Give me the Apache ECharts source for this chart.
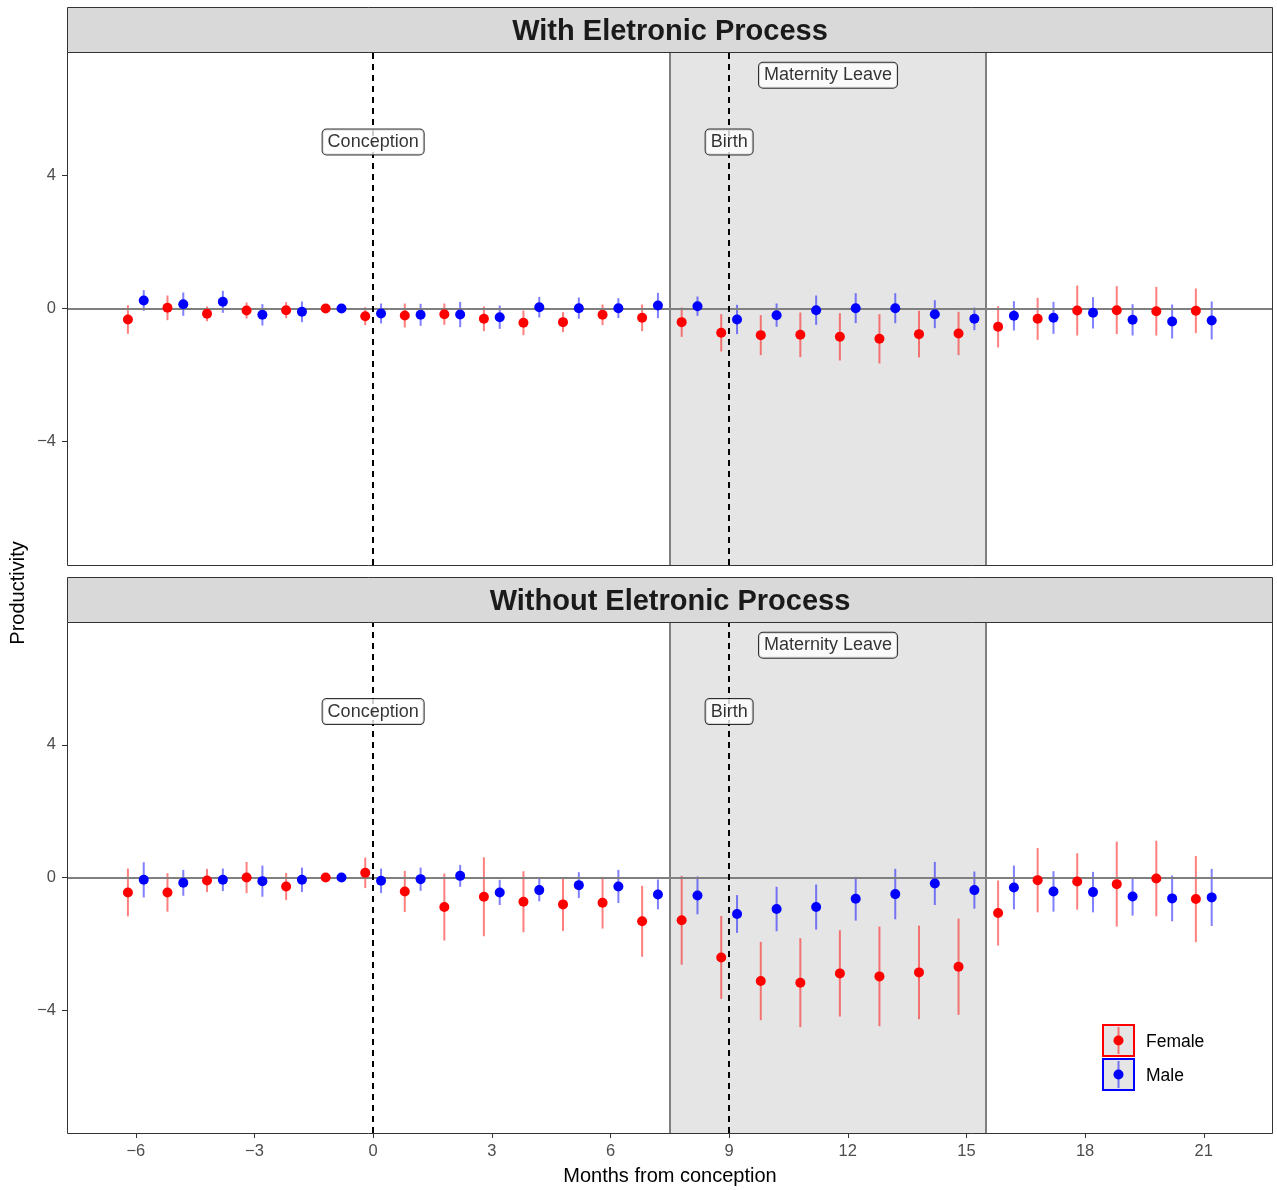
<!DOCTYPE html>
<html>
<head>
<meta charset="utf-8">
<script src="https://cdn.jsdelivr.net/npm/echarts@6/dist/echarts.min.js"></script>
<style>
  html, body { margin: 0; padding: 0; background: #fff; }
  #chart { width: 1277px; height: 1190px; }
</style>
</head>
<body>
<div id="chart"></div>
<script>
// Months relative to conception
const months = [-6,-5,-4,-3,-2,-1,0,1,2,3,4,5,6,7,8,9,10,11,12,13,14,15,16,17,18,19,20,21];

// Panel 1: with electronic process (estimate and 95% half-width)
const withFemale   = [-0.33,0.02,-0.16,-0.06,-0.05,0,-0.23,-0.21,-0.17,-0.31,-0.43,-0.41,-0.19,-0.28,-0.41,-0.73,-0.80,-0.79,-0.85,-0.91,-0.77,-0.75,-0.55,-0.31,-0.06,-0.05,-0.08,-0.07];
const withFemaleCI = [0.43,0.37,0.22,0.24,0.24,0,0.27,0.36,0.32,0.37,0.37,0.30,0.31,0.40,0.44,0.56,0.60,0.67,0.71,0.74,0.70,0.65,0.62,0.63,0.75,0.72,0.73,0.67];
const withMale     = [0.24,0.13,0.20,-0.19,-0.10,0,-0.15,-0.19,-0.18,-0.26,0.04,0.01,0.01,0.09,0.07,-0.33,-0.20,-0.05,0.01,0.01,-0.17,-0.31,-0.22,-0.28,-0.13,-0.34,-0.39,-0.36];
const withMaleCI   = [0.31,0.35,0.33,0.32,0.31,0,0.30,0.33,0.38,0.35,0.31,0.32,0.30,0.38,0.29,0.44,0.35,0.44,0.45,0.45,0.42,0.34,0.44,0.48,0.47,0.47,0.51,0.57];

// Panel 2: without electronic process
const withoutFemale   = [-0.45,-0.45,-0.09,0.00,-0.27,0,0.14,-0.42,-0.89,-0.58,-0.73,-0.81,-0.76,-1.32,-1.29,-2.41,-3.12,-3.17,-2.89,-2.98,-2.86,-2.69,-1.07,-0.08,-0.12,-0.20,-0.03,-0.65];
const withoutFemaleCI = [0.72,0.58,0.35,0.47,0.41,0,0.46,0.62,1.01,1.19,0.92,0.80,0.78,1.07,1.34,1.25,1.18,1.34,1.30,1.50,1.41,1.45,0.98,0.97,0.85,1.28,1.14,1.30];
const withoutMale     = [-0.07,-0.16,-0.07,-0.11,-0.07,0,-0.10,-0.05,0.05,-0.45,-0.38,-0.23,-0.27,-0.51,-0.54,-1.10,-0.95,-0.89,-0.64,-0.50,-0.18,-0.38,-0.30,-0.42,-0.44,-0.57,-0.63,-0.60];
const withoutMaleCI   = [0.53,0.39,0.34,0.47,0.37,0,0.37,0.35,0.33,0.38,0.34,0.39,0.50,0.45,0.57,0.57,0.67,0.68,0.66,0.76,0.65,0.56,0.66,0.61,0.61,0.58,0.69,0.86];

const panelTitles = ['With Eletronic Process', 'Without Eletronic Process'];
const xTicks = [-6,-3,0,3,6,9,12,15,18,21];
const yTicks = [-4,0,4];
const eventLines = [0, 9];          // conception, birth
const leaveSpan = [7.5, 15.5];      // maternity leave window
const annotations = [
  { name: 'Conception', x: 0, y: 5 },
  { name: 'Birth', x: 9, y: 5 },
  { name: 'Maternity Leave', x: 11.5, y: 7 }
];
const sexes = ['Female', 'Male'];

const FONT = 'Liberation Sans, Arial, Helvetica, sans-serif';
const RED = '#FF0000', BLUE = '#0000FF';
const DODGE = 0.2;

const chart = echarts.init(document.getElementById('chart'), null, { renderer: 'canvas' });

const grids = [
  { left: 67, top: 52, width: 1206, height: 513 },
  { left: 67, top: 622, width: 1206, height: 511 }
];
const XMIN = -7.74, XMAX = 22.75, YMIN = -7.7, YMAX = 7.7;

function errorBarSeries(gi, est, ci, offset, color) {
  return {
    type: 'custom',
    xAxisIndex: gi, yAxisIndex: gi,
    z: 4,
    silent: true,
    data: months.map((m, i) => [m + offset, est[i] - ci[i], est[i] + ci[i]]),
    encode: { x: 0, y: [1, 2] },
    renderItem(params, api) {
      const a = api.coord([api.value(0), api.value(1)]);
      const b = api.coord([api.value(0), api.value(2)]);
      return { type: 'line', shape: { x1: a[0], y1: a[1], x2: b[0], y2: b[1] },
               style: { stroke: color, lineWidth: 2, opacity: 0.5 } };
    }
  };
}

function pointSeries(gi, name, est, offset, color) {
  return {
    name, type: 'scatter', xAxisIndex: gi, yAxisIndex: gi, z: 5,
    symbol: 'circle', symbolSize: 10,
    itemStyle: { color, opacity: 1 },
    data: months.map((m, i) => [m + offset, est[i]])
  };
}

const series = [];
const panels = [
  [withFemale, withFemaleCI, withMale, withMaleCI],
  [withoutFemale, withoutFemaleCI, withoutMale, withoutMaleCI]
];
panels.forEach((p, gi) => {
  // background annotations: leave window, zero line, event lines
  series.push({
    type: 'line', xAxisIndex: gi, yAxisIndex: gi, data: [], z: 1, silent: true,
    markArea: {
      silent: true,
      itemStyle: { color: '#e5e5e5', borderWidth: 0 },
      data: [[{ xAxis: leaveSpan[0] }, { xAxis: leaveSpan[1] }]]
    },
    markLine: {
      silent: true, symbol: 'none', label: { show: false },
      data: [
        { xAxis: leaveSpan[0], lineStyle: { color: '#7f7f7f', width: 2, type: 'solid' } },
        { xAxis: leaveSpan[1], lineStyle: { color: '#7f7f7f', width: 2, type: 'solid' } },
        { yAxis: 0, lineStyle: { color: '#7f7f7f', width: 2, type: 'solid' } }
      ]
    }
  });
  series.push({
    type: 'line', xAxisIndex: gi, yAxisIndex: gi, data: [], z: 3, silent: true,
    markLine: {
      silent: true, symbol: 'none', label: { show: false },
      lineStyle: { color: '#000', width: 2, type: [6, 5] },
      data: eventLines.map(v => ({ xAxis: v }))
    }
  });
  series.push(errorBarSeries(gi, p[0], p[1], -DODGE, RED));
  series.push(errorBarSeries(gi, p[2], p[3], DODGE, BLUE));
  series.push(pointSeries(gi, sexes[0], p[0], -DODGE, RED));
  series.push(pointSeries(gi, sexes[1], p[2], DODGE, BLUE));
  // event labels
  series.push({
    type: 'scatter', xAxisIndex: gi, yAxisIndex: gi, z: 6, silent: true,
    symbolSize: 0,
    data: annotations.map(a => ({ name: a.name, value: [a.x, a.y] })),
    label: {
      show: true, position: 'inside', formatter: '{b}',
      fontFamily: FONT, fontSize: 18, color: '#000',
      backgroundColor: '#fff', borderColor: '#000', borderWidth: 1, borderRadius: 4,
      padding: [4, 5, 3, 5]
    }
  });
});

const xAxes = grids.map((g, gi) => ({
  type: 'value', gridIndex: gi, min: XMIN, max: XMAX,
  splitLine: { show: false },
  axisLine: { show: false, onZero: false },
  axisTick: { show: gi === 1, customValues: xTicks, length: 5, lineStyle: { color: '#333' } },
  axisLabel: { show: gi === 1, customValues: xTicks, color: '#4d4d4d', fontSize: 16.5, fontFamily: FONT, margin: 10,
               formatter: v => (v < 0 ? '\u2212' + Math.abs(v) : String(v)) },
  name: gi === 1 ? 'Months from conception' : '',
  nameLocation: 'middle', nameGap: 33,
  nameTextStyle: { fontSize: 20, color: '#000', fontFamily: FONT }
}));

const yAxes = grids.map((g, gi) => ({
  type: 'value', gridIndex: gi, min: YMIN, max: YMAX,
  splitLine: { show: false },
  axisLine: { show: false, onZero: false },
  axisTick: { show: true, customValues: yTicks, length: 5, lineStyle: { color: '#333' } },
  axisLabel: { customValues: yTicks, color: '#4d4d4d', fontSize: 16.5, fontFamily: FONT, margin: 11,
               formatter: v => (v < 0 ? '\u2212' + Math.abs(v) : String(v)) }
}));

const graphic = [];
grids.forEach((g, gi) => {
  // panel border
  graphic.push({ type: 'rect', z: 100, silent: true,
    shape: { x: g.left + 0.5, y: g.top + 0.5, width: g.width - 1, height: g.height },
    style: { fill: null, stroke: '#333', lineWidth: 1 } });
  // strip
  graphic.push({ type: 'rect', z: 100, silent: true,
    shape: { x: g.left + 0.5, y: g.top - 45 + 0.5, width: g.width - 1, height: 45 },
    style: { fill: '#d9d9d9', stroke: '#333', lineWidth: 1 } });
  graphic.push({ type: 'text', z: 101, silent: true,
    x: g.left + g.width / 2, y: g.top - 20,
    style: { text: panelTitles[gi], fill: '#1a1a1a', font: 'bold 29px ' + FONT, align: 'center', verticalAlign: 'middle' } });
});
// y axis title
graphic.push({ type: 'text', silent: true, x: 18, y: 593, rotation: Math.PI / 2,
  style: { text: 'Productivity', fill: '#000', font: '20px ' + FONT, align: 'center', verticalAlign: 'middle' } });
// legend keys
[[sexes[0], RED, 1025], [sexes[1], BLUE, 1059]].forEach(([label, col, top]) => {
  graphic.push({ type: 'rect', z: 100, silent: true, shape: { x: 1103, y: top, width: 31, height: 31 },
    style: { fill: '#e5e5e5', stroke: col, lineWidth: 2 } });
  graphic.push({ type: 'line', z: 101, silent: true, shape: { x1: 1118.5, y1: top + 2, x2: 1118.5, y2: top + 29 },
    style: { stroke: col, lineWidth: 2, opacity: 0.5 } });
  graphic.push({ type: 'circle', z: 102, silent: true, shape: { cx: 1118.5, cy: top + 15.5, r: 5 },
    style: { fill: col } });
  graphic.push({ type: 'text', z: 101, silent: true, x: 1146, y: top + 17,
    style: { text: label, fill: '#000', font: '17.5px ' + FONT, align: 'left', verticalAlign: 'middle' } });
});

chart.setOption({
  animation: false,
  backgroundColor: '#fff',
  grid: grids.map(g => Object.assign({ show: true, backgroundColor: '#fff', borderWidth: 0 }, g)),
  xAxis: xAxes,
  yAxis: yAxes,
  series,
  graphic
});
</script>
</body>
</html>
